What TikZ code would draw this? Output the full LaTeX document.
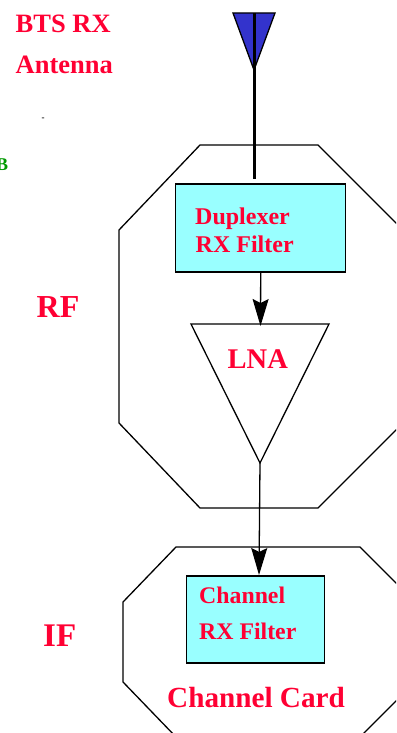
\documentclass[tikz,border=0pt]{standalone}
\usepackage{fontspec}
\setmainfont{Liberation Serif}
\usetikzlibrary{arrows.meta,shapes.geometric}
\definecolor{c1}{RGB}{255,0,51}
\definecolor{c2}{RGB}{153,255,255}
\definecolor{c3}{RGB}{51,51,204}
\definecolor{c4}{RGB}{0,153,0}
\begin{document}
\begin{tikzpicture}[
    x=1pt, y=-1pt,
    box/.style={draw, line width=1.3pt, fill=c2, inner sep=0pt},
    arrow/.style={-{Stealth[length=27pt, width=16pt, inset=4pt]}, line width=1.3pt},
    outline/.style={line width=1.3pt, line join=miter},
    label/.style={anchor=base west, inner sep=0pt, text=c1, font=\bfseries\fontsize{#1}{#1}\selectfont},
    label/.default=24
  ]
    \clip (0,0) rectangle (396,733);

    % Outlines
    \draw[outline] (200,145) -- (318,145) -- (403,230) -- (403,423) -- (318,508)
      -- (200,508) -- (119,423) -- (119,230) -- cycle;
    \draw[outline] (176,547) -- (360,547) -- (415,602) -- (415,682) -- (360,737)
      -- (176,737) -- (123,682) -- (123,602) -- cycle;

    % Antenna
    \coordinate (tip) at (254,70);
    \coordinate (feed) at (254,179);
    \draw[line width=1.3pt, fill=c3] (233,13) -- (275,13) -- (tip) -- cycle;
    \coordinate (top) at (254,13);

    % Boxes
    \node[box, minimum width=170pt, minimum height=88pt] (duplexer) at (260.7,228) {};
    \node[box, minimum width=138pt, minimum height=87pt] (channel) at (255.7,619.5) {};

    % LNA
    \coordinate (lnaleft) at (191,324);
    \coordinate (lnaright) at (329,324);
    \coordinate (lnain) at (260.5,326);
    \coordinate (lnaout) at (260,463);
    \draw[outline] (lnaleft) -- (lnaright) -- (lnaout) -- cycle;
    \coordinate (channelin) at (259,575);

    % Arrows
    \draw[line width=3pt] (top) -- (feed);
    \draw[arrow] (duplexer.south) -- (lnain);
    \draw[arrow] (lnaout) -- (channelin);

    % Labels
    \node[label=26.5] (bts) at (15.5,33) {BTS RX};
    \node[label=26.5] (antenna) at (15.5,74) {Antenna};
    \node[label=24] (dup) at (195,224) {Duplexer};
    \node[label=24] (rxdup) at (195.5,252) {RX Filter};
    \node[label=32] (rf) at (36.5,317) {RF};
    \node[label=28.5] (lna) at (227.5,368) {LNA};
    \node[label=23.8] (chan) at (199,603) {Channel};
    \node[label=23.8] (rxchan) at (199,639) {RX Filter};
    \node[label=33] (if) at (43,646) {IF};
    \node[label=29.2] (card) at (167,707) {Channel Card};
    \node[label=18, text=c4] (gain) at (-4,170) {B};
    \node[label=9, text=black] (dash) at (41.5,121) {-};
  \end{tikzpicture}
\end{document}
